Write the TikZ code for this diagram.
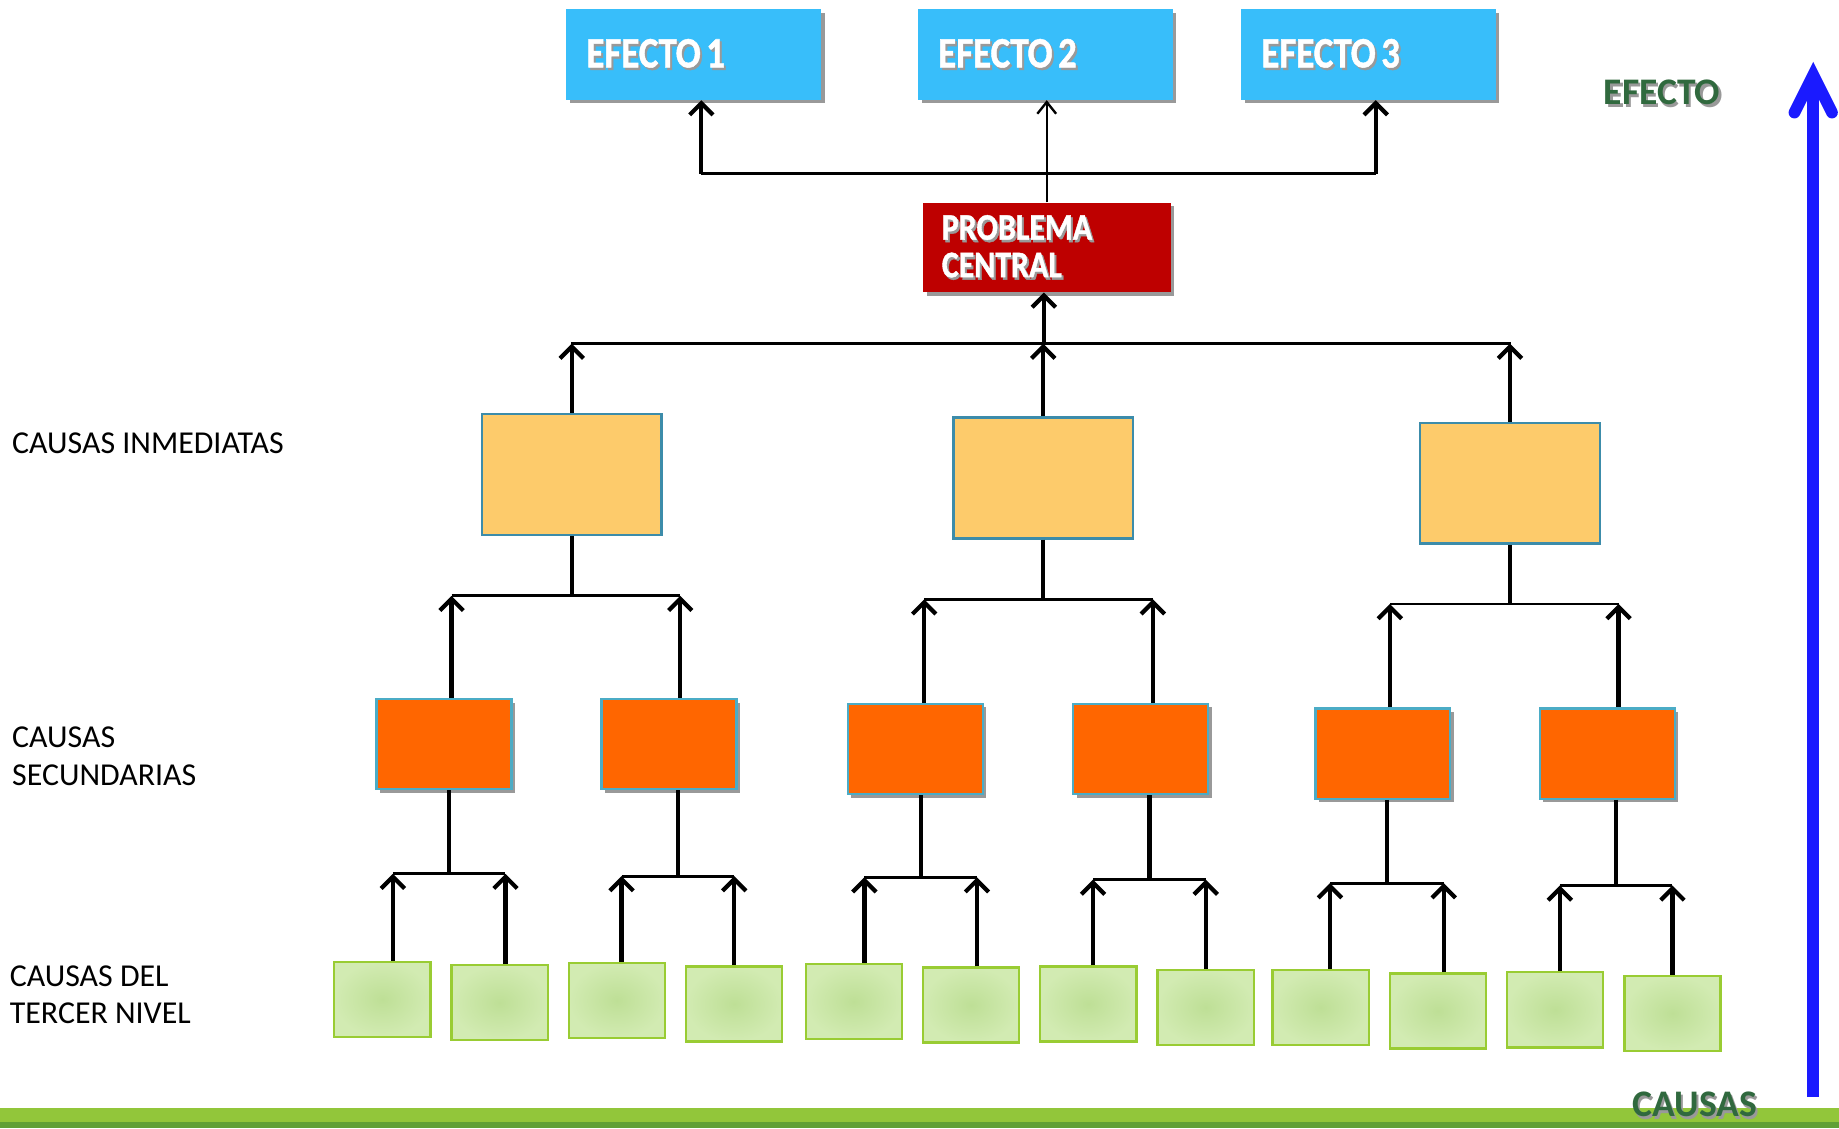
\documentclass[tikz,border=0pt]{standalone}
\usepackage{fontspec}
\setmainfont{Carlito}
\newfontfamily\heavyfont[FakeBold=1.2]{Carlito Bold}
\usepackage{graphicx}
\usetikzlibrary{arrows.meta,shadows,calc}
\definecolor{efblue}{RGB}{56,190,250}
\definecolor{pcred}{RGB}{190,0,0}
\definecolor{imfill}{RGB}{253,203,107}
\definecolor{imborder}{RGB}{60,140,170}
\definecolor{secfill}{RGB}{255,102,0}
\definecolor{secborder}{RGB}{75,172,198}
\definecolor{grin}{RGB}{190,223,150}
\definecolor{grout}{RGB}{210,235,178}
\definecolor{grborder}{RGB}{153,204,51}
\definecolor{barlight}{RGB}{146,198,58}
\definecolor{bardark}{RGB}{96,160,54}
\definecolor{axisblue}{RGB}{26,26,255}
\definecolor{lblgreen}{RGB}{48,105,62}
\newcommand\shadowedtext[2]{\makebox[0pt][l]{\hspace{1pt}\raisebox{-1pt}{\textcolor{black!40}{#2}}}\textcolor{#1}{#2}}
\tikzset{
  boxshadow/.style={drop shadow={shadow xshift=1.5pt,shadow yshift=-1.5pt,opacity=0.4,fill=black}},
  effbox/.style={fill=efblue, boxshadow, minimum width=108.5pt, minimum height=38.5pt,
    text width=91.5pt, inner xsep=8.5pt, inner ysep=0pt, align=left,
    font=\heavyfont\fontsize{18.5}{20}\selectfont},
  pcbox/.style={fill=pcred, boxshadow, minimum width=105.5pt, minimum height=38pt,
    text width=89.5pt, inner xsep=8pt, inner ysep=0pt, align=left,
    font=\heavyfont\fontsize{16}{16}\selectfont},
  imbox/.style={fill=imfill, draw=imborder, line width=1pt, minimum width=76.5pt, minimum height=51.5pt, inner sep=0pt},
  secbox/.style={fill=secfill, draw=secborder, line width=1pt, boxshadow, minimum width=57.5pt, minimum height=38.5pt, inner sep=0pt},
  grbox/.style={inner color=grin, outer color=grout, draw=grborder, line width=1pt, minimum width=41pt, minimum height=32pt, inner sep=0pt},
  arr/.style={line width=1.8pt, -{Straight Barb[length=5pt,width=10pt]}},
  thinarr/.style={line width=1pt, -{Straight Barb[length=5pt,width=8pt]}},
  stem/.style={line width=1.8pt},
  hbar/.style={line width=1.2pt},
  lbl/.style={anchor=west, align=left, inner sep=0pt, font=\fontsize{13.6}{16}\selectfont},
  axislbl/.style={inner sep=0pt, font=\bfseries\fontsize{16}{16}\selectfont},
}
\begin{document}
\begin{tikzpicture}[x=0.5pt,y=-0.5pt]
\useasboundingbox (0,0) rectangle (1568,962);
% bottom bar
\fill[barlight] (0,945) rectangle (1568,957);
\fill[bardark] (0,957) rectangle (1568,962);
% effects
\node[effbox] (e1) at (591.5,46.5) {\scalebox{0.85}[1]{\shadowedtext{white}{EFECTO\hspace{0.15em}1}}};
\node[effbox] (e2) at (891.5,46.5) {\scalebox{0.85}[1]{\shadowedtext{white}{EFECTO\hspace{0.15em}2}}};
\node[effbox] (e3) at (1167,46.5) {\scalebox{0.85}[1]{\shadowedtext{white}{EFECTO\hspace{0.15em}3}}};
% central problem
\node[pcbox] (pc) at (892.5,211) {\scalebox{0.85}[1]{\shadowedtext{white}{PROBLEMA}}\\\scalebox{0.85}[1]{\shadowedtext{white}{CENTRAL}}};
% immediate causes
\node[imbox] (i1) at (487.5,404.5) {};
\node[imbox] (i2) at (889.5,407.5) {};
\node[imbox] (i3) at (1287.5,412) {};
% secondary causes
\node[secbox] (s1) at (378.5,634.5) {};
\node[secbox] (s2) at (570.5,634.5) {};
\node[secbox] (s3) at (780.5,638.5) {};
\node[secbox] (s4) at (972.5,638.5) {};
\node[secbox] (s5) at (1179,642.5) {};
\node[secbox] (s6) at (1370.5,642.5) {};
% third level causes
\foreach \n/\x/\y in {1/326/852, 2/426/855, 3/526/853, 4/626/856, 5/728/854, 6/828/857,
  7/928/856, 8/1028/859, 9/1126/859, 10/1226/862, 11/1326/861, 12/1426/864}
  \node[grbox] (g\n) at (\x,\y) {};
% labels
\node[lbl] (l1) at (10,378) {CAUSAS INMEDIATAS};
\node[lbl] (l2) at (10,645) {CAUSAS\\SECUNDARIAS};
\node[lbl] (l3) at (8,848) {CAUSAS DEL\\TERCER NIVEL};
\node[axislbl] (ef) at (1417,80) {\shadowedtext{lblgreen}{EFECTO}};
\node[axislbl] (ca) at (1445,943) {\shadowedtext{lblgreen}{CAUSAS}};
% blue axis arrow
\coordinate (ab) at (1546,935);
\coordinate (at) at (1546,64);
\draw[axisblue, line width=5pt] (ab) -- (at);
\draw[axisblue, line width=5pt, line cap=round, line join=miter] ($(at)+(-16,32)$) -- (at) -- ($(at)+(16,32)$);
% top connectors
\coordinate (tl) at (598,148);
\coordinate (tr) at (1173,148);
\draw[hbar] (tl) -- (tr);
\draw[arr] (tl) -- (tl |- e1.south);
\draw[arr] (tr) -- (tr |- e3.south);
\draw[thinarr] (pc.north) -- (pc.north |- e2.south);
% level 1
\coordinate (ml) at (487,293);
\coordinate (mr) at (1288,293);
\coordinate (mc) at (890,293);
\draw[hbar] (ml) -- (mr);
\draw[arr] (i1.north) -- (i1.north |- ml);
\draw[arr] (i2.north) -- (i2.north |- ml);
\draw[arr] (i3.north) -- (i3.north |- ml);
\draw[arr] (mc) -- (mc |- pc.south);
% level 2
\foreach \k/\l/\r/\y/\a/\b in {1/385/580/508/s1/s2, 2/788/983/511/s3/s4, 3/1185/1380/515/s5/s6} {
  \coordinate (bl\k) at (\l,\y);
  \coordinate (br\k) at (\r,\y);
  \draw[stem] (i\k.south) -- (i\k.south |- bl\k);
  \draw[hbar] (bl\k) -- (br\k);
  \draw[arr] (\a.north -| bl\k) -- (bl\k);
  \draw[arr] (\b.north -| br\k) -- (br\k);
}
% level 3
\foreach \k/\l/\r/\y/\a/\b in {1/335/431/745/g1/g2, 2/530/626/747/g3/g4, 3/737/833/748/g5/g6,
  4/932/1028/750/g7/g8, 5/1134/1231/753/g9/g10, 6/1330/1426/755/g11/g12} {
  \coordinate (cl\k) at (\l,\y);
  \coordinate (cr\k) at (\r,\y);
  \coordinate (cm\k) at ($(cl\k)!0.5!(cr\k)$);
  \draw[stem] (s\k.south -| cm\k) -- (cm\k);
  \draw[hbar] (cl\k) -- (cr\k);
  \draw[arr] (\a.north -| cl\k) -- (cl\k);
  \draw[arr] (\b.north -| cr\k) -- (cr\k);
}
\end{tikzpicture}
\end{document}
